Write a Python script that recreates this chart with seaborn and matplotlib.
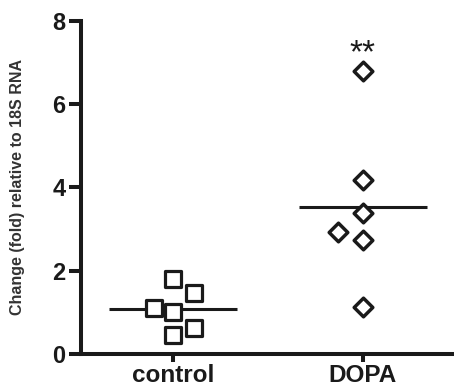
import numpy as np
import pandas as pd
import matplotlib
matplotlib.use("Agg")
import matplotlib.pyplot as plt
import seaborn as sns

categories = ["control", "DOPA"]
control_values = [1.80, 1.46, 1.10, 1.02, 0.62, 0.46]
dopa_values = [6.79, 4.18, 3.38, 2.94, 2.75, 1.12]
yticks = [0, 2, 4, 6, 8]
ylabel = "Change (fold) relative to 18S RNA"
annotation = "**"

# horizontal dodge of overlapping points (layout only)
control_dodge = [0.0, 0.11, -0.10, 0.0, 0.11, 0.0]
dopa_dodge = [0.0, 0.0, 0.0, -0.13, 0.0, 0.0]

sns.set_theme(style="ticks")
plt.rcParams["font.family"] = ["Liberation Sans", "DejaVu Sans"]
plt.rcParams["font.weight"] = "bold"

INK = "#1a1a1a"

def frame(cat, idx, vals, dodge):
    return pd.DataFrame({"group": cat,
                         "x": [idx + d for d in dodge],
                         "value": vals})

df_c = frame("control", 0, control_values, control_dodge)
df_d = frame("DOPA", 1, dopa_values, dopa_dodge)

fig = plt.figure(figsize=(4.54, 3.89), dpi=100)
ax = fig.add_axes([0.178, 0.09, 0.822, 0.856])

sns.scatterplot(data=df_c, x="x", y="value", marker="s", color="white",
                edgecolor=INK, linewidth=2.3, s=120, legend=False, ax=ax, zorder=3)
sns.scatterplot(data=df_d, x="x", y="value", marker="D", color="white",
                edgecolor=INK, linewidth=2.5, s=90, legend=False, ax=ax, zorder=3)

for i, vals in enumerate([control_values, dopa_values]):
    m = np.mean(vals)
    ax.hlines(m, i - 0.335, i + 0.335, color=INK, lw=2.2, zorder=2)

ax.text(1, 7.22, annotation, ha="center", va="center", fontsize=24,
        fontweight="normal", color=INK)

ax.set_xlim(-0.484, 1.479)
ax.set_ylim(0, 8)
ax.set_xticks([0, 1])
ax.set_xticklabels(categories, fontsize=17.5, fontweight="bold", color=INK)
ax.set_yticks(yticks)
ax.set_yticklabels([str(t) for t in yticks], fontsize=17, fontweight="bold", color=INK)
ax.set_xlabel("")
ax.set_ylabel(ylabel, fontsize=11.5, fontweight="bold", color="#333333")
ax.yaxis.set_label_coords(-0.150, 0.5)

for s in ["top", "right"]:
    ax.spines[s].set_visible(False)
for s in ["left", "bottom"]:
    ax.spines[s].set_linewidth(2.9)
    ax.spines[s].set_color(INK)
ax.tick_params(axis="y", length=9, width=2.9, color=INK, pad=2)
ax.tick_params(axis="x", length=6, width=2.9, color=INK, pad=1)
ax.spines["left"].set_bounds(0, 8)

fig.savefig("out.png", dpi=100)
